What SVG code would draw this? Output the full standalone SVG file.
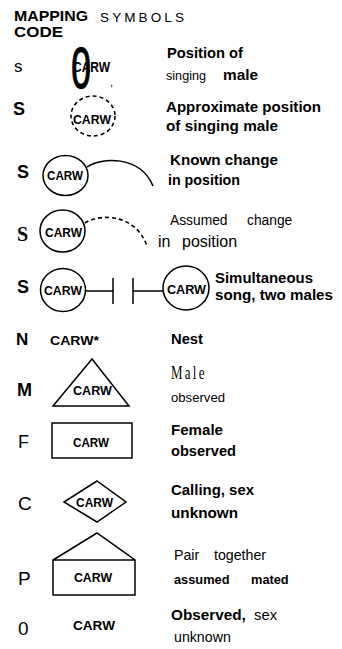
<svg xmlns="http://www.w3.org/2000/svg" width="342" height="649" viewBox="0 0 342 649">
<style>
text{fill:#000;font-family:"Liberation Sans",Arial,sans-serif}
.b{font-weight:bold}
.n{font-weight:normal}
.sf{font-family:"Liberation Serif","Times New Roman",serif}
.sh{fill:none;stroke:#000;stroke-width:1.5}
.dash{fill:none;stroke:#000;stroke-width:1.6;stroke-dasharray:4 3}
.lab{font-size:15px;font-weight:bold}
.carw{font-weight:bold;font-size:12px}
.code{font-size:18px}
</style>
<rect width="342" height="649" fill="#fff"/>
<g id="header">
<text class="b" x="14" y="21" font-size="14.5" textLength="74" lengthAdjust="spacingAndGlyphs">MAPPING</text>
<text class="n" x="100" y="21.5" font-size="13.5" textLength="84">SYMBOLS</text>
<text class="b" x="14" y="37" font-size="14.5" textLength="49" lengthAdjust="spacingAndGlyphs">CODE</text>
</g>
<g id="connectors">
<path class="sh" d="M87,167 C101,157 140,155 153,186"/>
<path class="dash" d="M85,223 C100,213 136,214 147,246"/>
<path class="sh" d="M85.5,291 H113 M113,278 V304 M133,278 V304 M133,291 H163"/>
</g>
<g id="row-position">
<text class="n" x="14" y="72" font-size="17">s</text>
<text class="n" x="130.6" y="88" font-size="57" text-anchor="middle" transform="scale(0.62,1)" stroke="#000" stroke-width="1.2">0</text>
<text class="b" x="73" y="72" font-size="14" textLength="37" lengthAdjust="spacingAndGlyphs">CARW</text>
<text class="n" x="110" y="86" font-size="11">,</text>
<text class="lab" x="167" y="57.5" textLength="76" lengthAdjust="spacingAndGlyphs">Position of</text>
<text class="n" x="166" y="80" font-size="12.5" textLength="40" lengthAdjust="spacingAndGlyphs">singing</text>
<text class="lab" x="223" y="80" textLength="35" lengthAdjust="spacingAndGlyphs">male</text>
</g>
<g id="row-approximate">
<text class="b code" x="13" y="115">S</text>
<ellipse class="dash" cx="93" cy="116" rx="22" ry="20"/>
<text class="carw" x="73" y="124" textLength="38" lengthAdjust="spacingAndGlyphs">CARW</text>
<text class="lab" x="166" y="112" textLength="155" lengthAdjust="spacingAndGlyphs">Approximate position</text>
<text class="lab" x="166" y="131" textLength="112" lengthAdjust="spacingAndGlyphs">of singing male</text>
</g>
<g id="row-known-change">
<text class="b code" x="17" y="178">S</text>
<ellipse class="sh" cx="65.5" cy="175.5" rx="22.5" ry="20"/>
<text class="carw" x="47" y="180" textLength="36" lengthAdjust="spacingAndGlyphs">CARW</text>
<text class="lab" x="170" y="165" textLength="108" lengthAdjust="spacingAndGlyphs">Known change</text>
<text class="lab" x="168" y="185" textLength="72" lengthAdjust="spacingAndGlyphs">in position</text>
</g>
<g id="row-assumed-change">
<text class="sf b" x="17" y="241" font-size="20">S</text>
<ellipse class="sh" cx="62.5" cy="231" rx="22.5" ry="21"/>
<text class="carw" x="45" y="237" textLength="37" lengthAdjust="spacingAndGlyphs">CARW</text>
<text class="n" y="225" font-size="13.8"><tspan x="170">Assumed</tspan> <tspan x="247">change</tspan></text>
<text class="n" y="247" font-size="16"><tspan x="158">in</tspan> <tspan x="182">position</tspan></text>
</g>
<g id="row-simultaneous">
<text class="b code" x="17" y="293">S</text>
<ellipse class="sh" cx="63" cy="290" rx="22.5" ry="21.5"/>
<text class="carw" x="44" y="295" textLength="38" lengthAdjust="spacingAndGlyphs">CARW</text>
<ellipse class="sh" cx="186" cy="288" rx="23" ry="22"/>
<text class="carw" x="167" y="294" textLength="39" lengthAdjust="spacingAndGlyphs">CARW</text>
<text class="lab" x="215" y="283" textLength="98" lengthAdjust="spacingAndGlyphs">Simultaneous</text>
<text class="lab" x="215" y="300" textLength="118" lengthAdjust="spacingAndGlyphs">song, two males</text>
</g>
<g id="row-nest">
<text class="b" x="16" y="345" font-size="17">N</text>
<text class="b" x="50" y="345" font-size="13" textLength="49" lengthAdjust="spacingAndGlyphs">CARW*</text>
<text class="lab" x="171" y="344" textLength="32" lengthAdjust="spacingAndGlyphs">Nest</text>
</g>
<g id="row-male">
<text class="b" x="17" y="396" font-size="18">M</text>
<polygon class="sh" points="92,359 53,406 129,406"/>
<text class="carw" x="73" y="395" textLength="39" lengthAdjust="spacingAndGlyphs">CARW</text>
<text class="sf n" transform="translate(171,379) scale(0.72,1)" font-size="18" letter-spacing="3.2">Male</text>
<text class="n" x="171" y="402" font-size="13.2" textLength="54" lengthAdjust="spacingAndGlyphs">observed</text>
</g>
<g id="row-female">
<text class="n" x="18" y="448" font-size="18">F</text>
<rect class="sh" x="52" y="423" width="80" height="35"/>
<text class="carw" x="73" y="447" textLength="36" lengthAdjust="spacingAndGlyphs">CARW</text>
<text class="lab" x="171" y="435" textLength="52" lengthAdjust="spacingAndGlyphs">Female</text>
<text class="lab" x="171" y="456" textLength="65" lengthAdjust="spacingAndGlyphs">observed</text>
</g>
<g id="row-calling">
<text class="n" x="18" y="510" font-size="19">C</text>
<polygon class="sh" points="64,502 97,481 126,502 97,522"/>
<text class="carw" x="76" y="507" textLength="37" lengthAdjust="spacingAndGlyphs">CARW</text>
<text class="lab" x="171" y="495" textLength="83" lengthAdjust="spacingAndGlyphs">Calling, sex</text>
<text class="lab" x="171" y="518" textLength="67" lengthAdjust="spacingAndGlyphs">unknown</text>
</g>
<g id="row-pair">
<text class="n" x="18" y="585" font-size="19">P</text>
<path class="sh" d="M53,595 V560 L97,533 L135,560 V595 Z M53,560 H135"/>
<text class="carw" x="74" y="582" textLength="38" lengthAdjust="spacingAndGlyphs">CARW</text>
<text class="n" y="560" font-size="14.2"><tspan x="174">Pair</tspan> <tspan x="214">together</tspan></text>
<text class="b" y="584" font-size="12.8"><tspan x="174">assumed</tspan> <tspan x="251">mated</tspan></text>
</g>
<g id="row-observed">
<text class="n" x="18" y="635" font-size="19">0</text>
<text class="b" x="73" y="630" font-size="13.5" textLength="42" lengthAdjust="spacingAndGlyphs">CARW</text>
<text y="620"><tspan class="b" x="171" font-size="15.3">Observed,</tspan> <tspan class="n" x="254" font-size="14.8">sex</tspan></text>
<text class="n" x="174" y="642" font-size="14.2">unknown</text>
</g>
</svg>
